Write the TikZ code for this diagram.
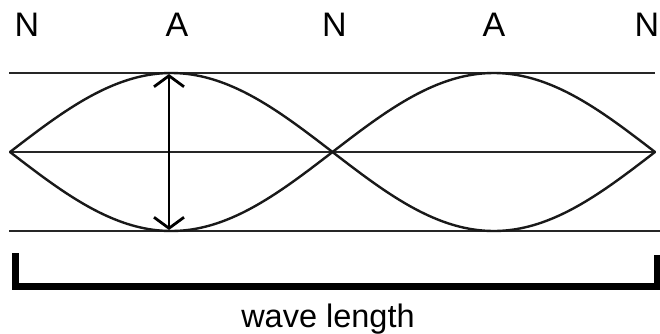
\documentclass[tikz,border=0pt]{standalone}
\usepackage{fontspec}
\setmainfont{Liberation Sans}
\usetikzlibrary{arrows.meta}
\begin{document}
\begin{tikzpicture}[x=1pt,y=1pt,
  guide/.style={line width=1.8pt, black!85},
  wave/.style={line width=2.4pt, black!90},
  amp/.style={line width=2.8pt, {Straight Barb[length=11pt,width=30pt]}-{Straight Barb[length=11pt,width=30pt]}},
  bracket/.style={line width=7pt, miter limit=10},
  lbl/.style={inner sep=0pt, anchor=base, font=\fontsize{34}{36}\selectfont},
  captionlbl/.style={inner sep=0pt, anchor=base, font=\fontsize{32.5}{36}\selectfont}]
\useasboundingbox (0,0) rectangle (660,-333);
\clip (0,0) rectangle (660,-333);
% labels
\node[lbl] (n1) at (27,-36.5) {N};
\node[lbl] (a1) at (177,-36.5) {A};
\node[lbl] (n2) at (334.5,-36.5) {N};
\node[lbl] (a2) at (494,-36.5) {A};
\node[lbl] (n3) at (647,-36.5) {N};
% guide lines
\coordinate (tl) at (9,-73);   \coordinate (tr) at (655,-73);
\coordinate (ml) at (9,-152);  \coordinate (mr) at (656,-152);
\coordinate (bl) at (9,-231);  \coordinate (br) at (660,-231);
\draw[guide] (tl) -- (tr);
\draw[guide] (ml) -- (mr);
\draw[guide] (bl) -- (br);
% waves
\draw[wave] plot[domain=10:655, samples=160, smooth] ({\x},{-152+79*sin((\x-10)/645*360)});
\draw[wave] plot[domain=10:655, samples=160, smooth] ({\x},{-152-79*sin((\x-10)/645*360)});
% amplitude arrow
\coordinate (ampT) at (169,-74);
\coordinate (ampB) at (169,-230);
\draw[amp] (ampT) -- (ampB);
% bracket
\coordinate (bL) at (15,-253);
\coordinate (bR) at (657,-255);
\draw[bracket] (bL) -- (15,-286.5) -- (657,-286.5) -- (bR);
\node[captionlbl] (wl) at (328,-327) {wave length};
\end{tikzpicture}
\end{document}
